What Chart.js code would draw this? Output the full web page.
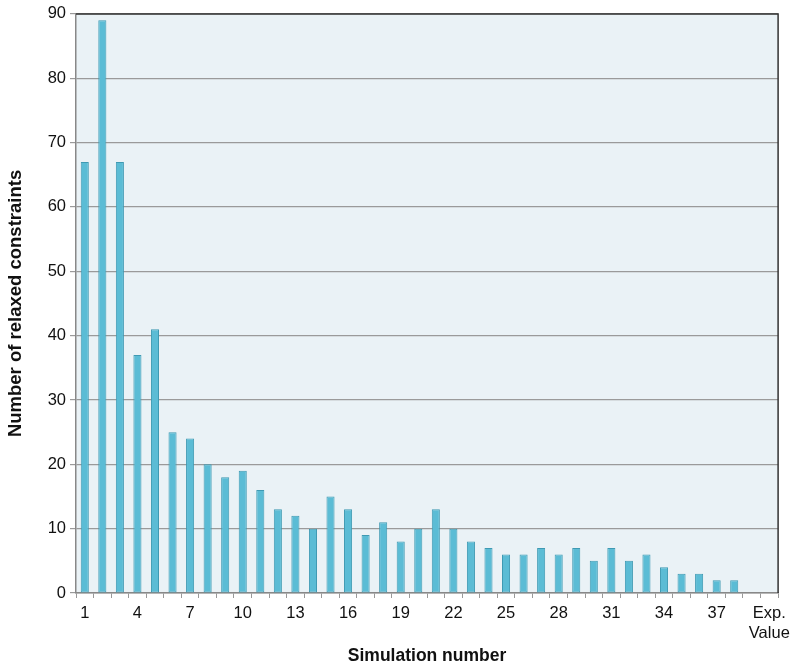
<!DOCTYPE html>
<html>
<head>
<meta charset="utf-8">
<script src="https://cdn.jsdelivr.net/npm/chart.js@4/dist/chart.umd.min.js"></script>
<style>
  html, body { margin: 0; padding: 0; background: #fff; }
  #wrap { width: 796px; height: 667px; position: relative; }
</style>
</head>
<body>
<div id="wrap"><canvas id="c" width="796" height="667"></canvas></div>
<script>
// categories: simulations 1..39 plus the experimental value
var simLabels = []
for (var i = 1; i <= 39; i++) simLabels.push(String(i))
simLabels.push(['Exp.', 'Value'])

var relaxed = [67, 89, 67, 37, 41, 25, 24, 20, 18, 19,
               16, 13, 12, 10, 15, 13, 9, 11, 8, 10,
               13, 10, 8, 7, 6, 6, 7, 6, 7, 5,
               7, 5, 6, 4, 3, 3, 2, 2, 0, 0]

var yTicks = [0, 10, 20, 30, 40, 50, 60, 70, 80, 90]

var plotFrame = {
  id: 'plotFrame',
  beforeDraw: function (chart) {
    var a = chart.chartArea, ctx = chart.ctx
    ctx.save()
    ctx.fillStyle = '#eaf2f6'
    ctx.fillRect(a.left, a.top, a.right - a.left, a.bottom - a.top)
    ctx.restore()
  },
  afterDraw: function (chart) {
    var a = chart.chartArea, ctx = chart.ctx
    ctx.save()
    ctx.strokeStyle = '#333'
    ctx.lineWidth = 1.5
    ctx.beginPath()
    ctx.moveTo(a.left, a.top)
    ctx.lineTo(a.right, a.top)
    ctx.lineTo(a.right, a.bottom)
    ctx.stroke()
    ctx.restore()
  }
}

new Chart(document.getElementById('c'), {
  type: 'bar',
  data: {
    labels: simLabels,
    datasets: [{
      data: relaxed,
      backgroundColor: '#5bbcd5',
      borderColor: '#3f9ab3',
      borderWidth: 1,
      borderSkipped: false,
      categoryPercentage: 0.46,
      barPercentage: 1
    }]
  },
  options: {
    responsive: false,
    animation: false,
    devicePixelRatio: 1,
    layout: { padding: { top: 9, right: 15, left: 0, bottom: 0 } },
    plugins: { legend: { display: false }, tooltip: { enabled: false } },
    scales: {
      x: {
        grid: { display: true, drawOnChartArea: false, color: '#999', tickLength: 5, offset: true },
        border: { color: '#888', width: 1.5 },
        ticks: {
          autoSkip: false, maxRotation: 0, color: '#111', padding: 6,
          font: { family: 'Liberation Sans, Arial, sans-serif', size: 16.5, lineHeight: 1.2 },
          callback: function (v, idx) { return idx % 3 === 0 ? simLabels[idx] : '' }
        },
        title: {
          display: true, text: 'Simulation number', color: '#111',
          font: { family: 'Liberation Sans, Arial, sans-serif', size: 17.5, weight: 'bold' },
          padding: { top: 8, bottom: 0 }
        },
        afterFit: function (s) { s.height = 74 }
      },
      y: {
        min: 0, max: 90,
        afterBuildTicks: function (s) { s.ticks = yTicks.map(function (v) { return { value: v } }) },
        grid: { color: '#9a9a9a', lineWidth: 1.2, tickLength: 6 },
        border: { color: '#888', width: 1.5 },
        ticks: {
          color: '#111', padding: 4,
          font: { family: 'Liberation Sans, Arial, sans-serif', size: 16.5 }
        },
        title: {
          display: true, text: 'Number of relaxed constraints', color: '#111',
          font: { family: 'Liberation Sans, Arial, sans-serif', size: 18.5, weight: 'bold' },
          padding: { top: 5, bottom: 4 }
        },
        afterFit: function (s) { s.width = 76 }
      }
    }
  },
  plugins: [plotFrame]
})
</script>
</body>
</html>
